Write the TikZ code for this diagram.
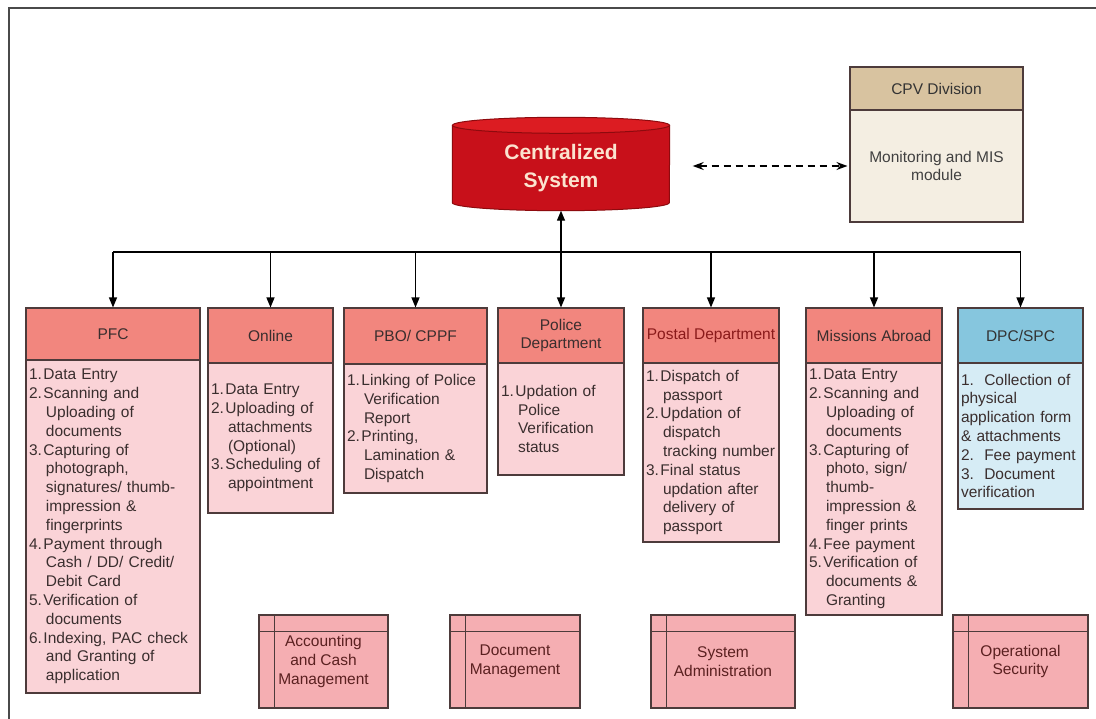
\documentclass[tikz,border=0pt]{standalone}
\usepackage{fontspec}
\setmainfont{Liberation Sans}
\usetikzlibrary{arrows.meta,backgrounds}
\definecolor{hdred}{HTML}{F2867E}
\definecolor{bdpink}{HTML}{FAD3D7}
\definecolor{modpink}{HTML}{F5AEB2}
\definecolor{hdblue}{HTML}{86C6DE}
\definecolor{bdblue}{HTML}{D6ECF5}
\definecolor{hdtan}{HTML}{D8C3A0}
\definecolor{bdtan}{HTML}{F4EEE2}
\definecolor{cylbody}{HTML}{C8101A}
\definecolor{cyltop}{HTML}{DC1C22}
\definecolor{cyledge}{HTML}{8E0A0E}
\definecolor{cyltext}{HTML}{FBE3CF}
\definecolor{boxline}{HTML}{4D3B3B}
\definecolor{txtdark}{HTML}{3A2E2E}
\definecolor{txtred}{HTML}{8A1A1A}
\definecolor{txtmod}{HTML}{5A2020}
\definecolor{framecol}{HTML}{4A4A4A}
\newcommand\firstl[2]{\mbox{\makebox[14.5pt][l]{#1}#2}}
\newcommand\contl[1]{\mbox{\hspace*{17pt}#1}}
\newcommand\unitbox[9]{%
  \pgfmathsetmacro\bxc{(#2+#3)/2}%
  \pgfmathsetmacro\bxw{#3-#2}%
  \pgfmathsetmacro\btw{#3-#2-6}%
  \pgfmathsetmacro\bhc{(#4+#5)/2}%
  \pgfmathsetmacro\bhh{#5-#4}%
  \pgfmathsetmacro\bbc{(#5+#6)/2}%
  \pgfmathsetmacro\bbh{#6-#5}%
  \node[#7head, minimum width=\bxw pt, minimum height=\bhh pt] (#1) at (\bxc,\bhc) {#8};
  \node[#7body, minimum width=\bxw pt, minimum height=\bbh pt, text width=\btw pt] (#1b) at (\bxc,\bbc) {#9};
}
\newcommand\modbox[6]{%
  \pgfmathsetmacro\mxc{(#2+#3)/2}%
  \pgfmathsetmacro\mxw{#3-#2}%
  \pgfmathsetmacro\myc{(#4+#5)/2}%
  \pgfmathsetmacro\myh{#5-#4}%
  \node[module, minimum width=\mxw pt, minimum height=\myh pt] (#1) at (\mxc,\myc) {#6};
  \draw[modline] ([yshift=-17pt]#1.north west) -- ([yshift=-17pt]#1.north east);
  \draw[modline] ([xshift=16pt]#1.north west) -- ([xshift=16pt]#1.south west);
}
\begin{document}
\begin{tikzpicture}[x=1pt,y=-1pt,
  txt/.style={font=\fontsize{15.5}{18.8}\selectfont, text=txtdark},
  redhead/.style={draw=boxline, line width=1.1pt, fill=hdred, txt, align=center, inner sep=2pt},
  redbody/.style={draw=boxline, line width=1.1pt, fill=bdpink, txt, align=left, inner xsep=3pt, inner ysep=0pt},
  bluehead/.style={draw=boxline, line width=1.1pt, fill=hdblue, txt, text=black!80, align=center, inner sep=2pt},
  bluebody/.style={draw=boxline, line width=1.1pt, fill=bdblue, txt, align=left, inner xsep=3pt, inner ysep=0pt},
  tanhead/.style={draw=boxline, line width=1.1pt, fill=hdtan, txt, text=black!80, align=center, inner sep=2pt},
  tanbody/.style={draw=boxline, line width=1.1pt, fill=bdtan, txt, text=black!75, align=center, inner sep=2pt},
  module/.style={draw=boxline, line width=1.1pt, fill=modpink, txt, text=txtmod, align=center, inner sep=2pt},
  modline/.style={draw=boxline, line width=1.1pt},
  arr/.style={line width=1.3pt, draw=black, -{Triangle[length=10pt,width=8pt]}},
  busline/.style={line width=1.3pt, draw=black},
  dasharr/.style={line width=1.3pt, draw=black, dash pattern=on 7pt off 5pt,
     {Stealth[length=11pt,width=8pt]}-{Stealth[length=11pt,width=8pt]}},
  framel/.style={line width=2.5pt, draw=framecol}
]
\useasboundingbox (0,0) rectangle (1096,719);

% central database
\node[minimum width=217pt, minimum height=85pt, inner sep=0pt, text=cyltext,
      font=\bfseries\fontsize{21}{28}\selectfont, align=center] (cs) at (561,168) {Centralized\\System};
\begin{pgfonlayer}{background}
\fill[white] (0,0) rectangle (1096,719);
\filldraw[fill=cylbody, draw=cyledge, line width=1pt] (cs.north west) -- ([yshift=8pt]cs.south west)
   arc[start angle=180, end angle=360, x radius=108.5pt, y radius=8pt] -- (cs.north east) -- cycle;
\filldraw[fill=cyltop, draw=cyledge, line width=1pt] (cs.north) ellipse[x radius=108.5pt, y radius=8pt];
\end{pgfonlayer}
\draw[framel] (9,719) -- (9,8) -- (1096,8);

% CPV division
\node[tanhead, minimum width=173pt, minimum height=43pt] (cpv) at (936.5,88.5) {CPV Division};
\node[tanbody, minimum width=173pt, minimum height=112pt] (cpvb) at (936.5,166) {Monitoring and MIS\\module};

% unit boxes
\unitbox{pfc}{26}{200}{308}{360}{693}{red}{PFC}{%
\firstl{1.}{Data Entry}\\\firstl{2.}{Scanning and}\\\contl{Uploading of}\\\contl{documents}\\%
\firstl{3.}{Capturing of}\\\contl{photograph,}\\\contl{signatures/ thumb-}\\\contl{impression \&}\\\contl{fingerprints}\\%
\firstl{4.}{Payment through}\\\contl{Cash / DD/ Credit/}\\\contl{Debit Card}\\%
\firstl{5.}{Verification of}\\\contl{documents}\\%
\firstl{6.}{Indexing, PAC check}\\\contl{and Granting of}\\\contl{application}}
\unitbox{onl}{208}{333}{308}{363}{513}{red}{Online}{%
\firstl{1.}{Data Entry}\\\firstl{2.}{Uploading of}\\\contl{attachments}\\\contl{(Optional)}\\%
\firstl{3.}{Scheduling of}\\\contl{appointment}}
\unitbox{pbo}{344}{487}{308}{364}{493}{red}{PBO/ CPPF}{%
\firstl{1.}{Linking of Police}\\\contl{Verification}\\\contl{Report}\\%
\firstl{2.}{Printing,}\\\contl{Lamination \&}\\\contl{Dispatch}}
\unitbox{pol}{498}{624}{308}{363}{475}{red}{Police\\Department}{%
\firstl{1.}{Updation of}\\\contl{Police}\\\contl{Verification}\\\contl{status}}
\unitbox{pst}{643}{779}{308}{363}{542}{red}{\textcolor{txtred}{Postal Department}}{%
\firstl{1.}{Dispatch of}\\\contl{passport}\\\firstl{2.}{Updation of}\\\contl{dispatch}\\\contl{tracking number}\\%
\firstl{3.}{Final status}\\\contl{updation after}\\\contl{delivery of}\\\contl{passport}}
\unitbox{mis}{806}{942}{308}{363}{615}{red}{Missions Abroad}{%
\firstl{1.}{Data Entry}\\\firstl{2.}{Scanning and}\\\contl{Uploading of}\\\contl{documents}\\%
\firstl{3.}{Capturing of}\\\contl{photo, sign/}\\\contl{thumb-}\\\contl{impression \&}\\\contl{finger prints}\\%
\firstl{4.}{Fee payment}\\\firstl{5.}{Verification of}\\\contl{documents \&}\\\contl{Granting}}
\unitbox{dpc}{958}{1083}{308}{363}{509}{blue}{DPC/SPC}{%
\mbox{1.\ \ Collection of}\\\mbox{physical}\\\mbox{application form}\\\mbox{\& attachments}\\%
\mbox{2.\ \ Fee payment}\\\mbox{3.\ \ Document}\\\mbox{verification}}

% modules
\modbox{acc}{259}{388}{615}{708}{Accounting\\and Cash\\Management}
\modbox{doc}{450}{580}{615}{708}{Document\\Management}
\modbox{sys}{651}{795}{615}{708}{System\\Administration}
\modbox{ops}{953}{1088}{615}{708}{Operational\\Security}

% connectors
\coordinate (bus) at (561,252);
\draw[busline] (pfc.north |- bus) -- (dpc.north |- bus);
\draw[arr] (bus) -- (cs.south);
\foreach \b in {pfc,onl,pbo,pol,pst,mis,dpc}{
  \draw[arr] (\b.north |- bus) -- (\b.north);
}
\draw[dasharr, shorten <=23pt, shorten >=2pt] (cs.east |- cpvb.west) -- (cpvb.west);
\end{tikzpicture}
\end{document}
